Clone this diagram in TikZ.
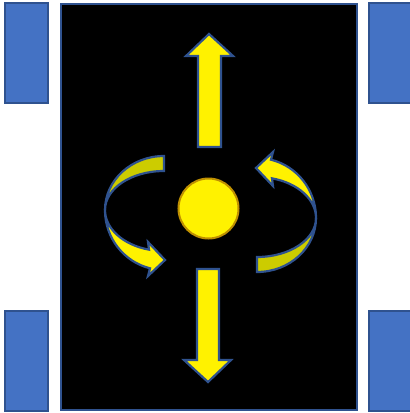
\documentclass[tikz,border=0pt]{standalone}
\usetikzlibrary{calc}
\definecolor{bluefill}{RGB}{68,114,196}
\definecolor{blueedge}{RGB}{47,82,143}
\definecolor{olive}{RGB}{204,204,0}
\definecolor{gold}{RGB}{191,144,0}
\tikzset{
  pad/.style={fill=bluefill,draw=blueedge,line width=2pt},
  yarrow/.style={fill=yellow,draw=blueedge,line width=2.2pt,line join=miter},
  oarrow/.style={fill=olive,draw=blueedge,line width=2.2pt,line join=miter},
  pics/curvedarrow/.style={code={
    \path[oarrow] (0,-54) -- (0,-39)
      arc[start angle=270,end angle=180,x radius=59,y radius=39]
      arc[start angle=180,end angle=270,x radius=59,y radius=54] -- cycle;
    \path[yarrow] (-59,0)
      arc[start angle=180,end angle=104.7,x radius=59,y radius=41]
      -- (-16,32) -- (1,50) -- (-16,66) -- (-14,58.3)
      arc[start angle=103.7,end angle=180,x radius=59,y radius=60] -- cycle;
  }}
}
\begin{document}
\begin{tikzpicture}[x=1pt,y=-1pt]
\useasboundingbox (0,0) rectangle (410,413);
\fill[white] (0,0) rectangle (410,413);
% side pads
\draw[pad] (5,3) rectangle (48,103);
\draw[pad] (5,311) rectangle (48,411);
\draw[pad] (369,3) rectangle (414,103);
\draw[pad] (369,311) rectangle (414,411);
% black field
\draw[fill=black,draw=blueedge,line width=2pt] (61,4) rectangle (357,410);
% up arrow
\path[yarrow] (198,147) -- (198,56) -- (186,56) -- (209,34) -- (233,56) -- (221,56) -- (221,147) -- cycle;
% down arrow
\path[yarrow] (197,269) -- (197,360) -- (184,360) -- (208,382) -- (231,360) -- (219,360) -- (219,269) -- cycle;
% ball
\node[circle,fill=yellow,draw=gold,line width=2pt,minimum size=60pt,inner sep=0pt] (ball) at (208.5,208.5) {};
% curved arrows
\pic at (164,210) {curvedarrow};
\pic[rotate=180] at (257,218) {curvedarrow};
\end{tikzpicture}
\end{document}
